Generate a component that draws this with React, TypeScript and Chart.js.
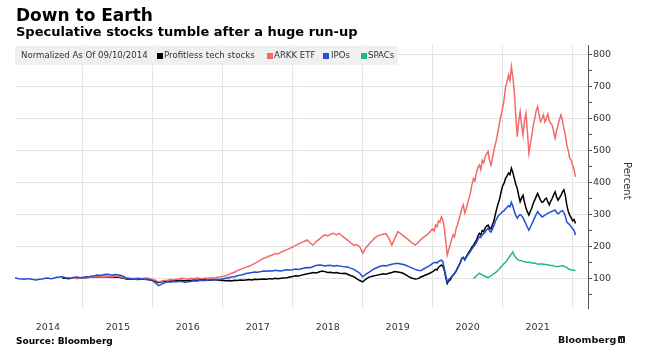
import React, { useEffect, useRef } from "react";
import { Chart, registerables } from "chart.js";

Chart.register(...registerables);

// ---------- data ----------
// early segments: semi-monthly readings (step 1/24 year) up to end of 2019
// late segments: weekly-ish readings (step 1/48 year) from 2020.0
const EARLY_STEP = 1 / 24;
const LATE_STEP = 1 / 48;
const lateStart = 2020;

const yearLabels = ["2014", "2015", "2016", "2017", "2018", "2019", "2020", "2021"];
const yTickValues = [50, 100, 150, 200, 250, 300, 350, 400, 450, 500, 550, 600, 650, 700, 750, 800];

const techStart = 2014 + 17 / 24;
const techEarly = [
  100, 101, 99, 100, 101, 100, 102,
  101, 102, 103, 104, 103, 105, 104, 106, 105, 104, 105, 103, 104, 102, 100, 98, 97, 98, 97, 96, 98, 97, 96, 95,
  93, 90, 87, 89, 91, 92, 91, 93, 92, 94, 93, 92, 94, 93, 95, 94, 95, 96, 95, 94, 95, 96, 95, 94,
  93, 92, 93, 92, 94, 93, 95, 94, 95, 96, 95, 97, 96, 97, 98, 97, 99, 98, 100, 99, 100, 101, 102, 104,
  106, 108, 107, 110, 112, 114, 116, 118, 117, 120, 123, 121, 118, 119, 117, 118, 116, 115, 116, 112, 108, 105, 98, 93,
  89, 97, 103, 106, 108, 110, 112, 114, 113, 116, 118, 121, 120, 118, 115, 110, 104, 100, 98, 99, 104, 108, 112, 116,
];
const techLate = [
  121, 124, 128, 126, 135, 138, 142, 138, 125, 102, 84, 92,
  95, 104, 110, 115, 122, 132, 140, 150, 163, 166, 158, 168,
  175, 183, 190, 198, 204, 212, 220, 232, 241, 236, 250, 246,
  258, 264, 267, 258, 255, 268, 280, 300, 319, 335, 350, 372,
  390, 398, 413, 420, 430, 425, 445, 432, 413, 395, 382, 360,
  340, 352, 360, 338, 320, 308, 298, 310, 320, 335, 345, 356,
  366, 355, 345, 338, 340, 348, 351, 340, 330, 342, 350, 362,
  371, 355, 345, 352, 360, 370, 377, 360, 330, 310, 298, 290,
  280, 284, 272,
];

const arkkStart = 2014 + 20 / 24;
const arkkEarly = [
  100, 101, 99, 102,
  101, 103, 102, 104, 105, 104, 106, 105, 107, 106, 105, 107, 106, 104, 102, 100, 101, 99, 100, 101, 99, 100, 101, 99,
  97, 93, 89, 91, 93, 94, 96, 95, 97, 98, 100, 99, 98, 100, 99, 101, 100, 99, 101, 100, 102, 101, 103, 104,
  106, 108, 111, 116, 119, 124, 128, 131, 135, 138, 142, 147, 152, 158, 163, 166, 170, 173, 178, 176, 182, 186, 190, 194,
  198, 203, 208, 212, 216, 220, 210, 204, 215, 222, 230, 236, 233, 238, 241, 236, 241, 232, 225, 218, 210, 204, 206, 198,
  178, 195, 205, 215, 225, 232, 236, 238, 240, 225, 204, 225, 246, 240, 232, 226, 218, 210, 204, 212, 222, 230, 236, 245,
];
const arkkLate = [
  255, 248, 267, 262, 280, 276, 293, 282, 257, 215, 173, 190,
  205, 222, 236, 230, 255, 268, 285, 300, 319, 330, 305, 318,
  335, 352, 370, 395, 413, 405, 430, 448, 455, 440, 470, 462,
  480, 490, 497, 470, 455, 478, 500, 520, 539, 565, 590, 612,
  633, 660, 700, 715, 737, 720, 763, 730, 685, 610, 544, 590,
  622, 580, 549, 595, 617, 560, 492, 520, 549, 578, 600, 625,
  638, 612, 591, 600, 612, 590, 600, 615, 595, 585, 580, 560,
  539, 562, 580, 598, 612, 595, 570, 548, 518, 500, 476, 470,
  455, 440, 418,
];

const iposStart = 2014;
const iposEarly = [
  100, 101, 99, 98, 97, 99, 98, 96, 95, 97, 98, 100, 101, 99, 100, 103, 104, 105, 102, 101, 100, 103, 104, 102,
  103, 105, 104, 107, 108, 110, 109, 111, 113, 112, 110, 112, 111, 109, 106, 100, 98, 99, 97, 98, 99, 97, 98, 96,
  92, 85, 77, 82, 86, 89, 88, 90, 89, 91, 90, 88, 89, 90, 92, 91, 93, 94, 93, 95, 96, 95, 97, 96,
  98, 100, 102, 104, 105, 108, 110, 112, 115, 117, 118, 120, 119, 121, 123, 122, 124, 123, 125, 124, 123, 125, 127, 126,
  127, 129, 128, 130, 132, 134, 133, 137, 140, 142, 141, 139, 140, 141, 138, 140, 139, 137, 136, 135, 131, 128, 122, 116,
  105, 112, 118, 124, 130, 134, 138, 140, 139, 142, 144, 146, 147, 145, 143, 140, 136, 132, 128, 125, 124, 130, 135, 140,
];
const iposLate = [
  147, 149, 150, 148, 153, 155, 157, 152, 130, 108, 89, 96,
  100, 106, 110, 116, 122, 130, 140, 150, 163, 165, 158, 165,
  172, 178, 185, 192, 199, 205, 212, 222, 230, 228, 236, 240,
  245, 252, 257, 250, 245, 255, 265, 278, 288, 295, 300, 304,
  309, 312, 318, 322, 328, 324, 338, 326, 310, 298, 288, 295,
  300, 296, 290, 280, 270, 260, 251, 260, 270, 280, 290, 300,
  309, 302, 298, 292, 295, 298, 300, 304, 306, 308, 310, 312,
  314, 306, 302, 306, 310, 312, 306, 295, 277, 272, 268, 262,
  255, 250, 236,
];

const spacsStart = 2020 + 28 / 48;
const spacsLate = [
  100, 103, 108, 112, 116, 113, 111, 108, 106, 104,
  102, 105, 108, 112, 115, 118, 121, 126, 130, 136,
  142, 146, 150, 156, 163, 170, 176, 183, 172, 165,
  160, 157, 156, 155, 153, 152, 151, 150, 150, 149,
  149, 147, 148, 146, 145, 144, 145, 145, 144, 143,
  143, 142, 141, 140, 140, 139, 138, 136, 137, 138,
  139, 140, 138, 136, 134, 130, 128, 126, 126, 125,
  124,
];

// ---------- styles ----------
const FONT = '"DejaVu Sans", Verdana, sans-serif';
const BLACK = "#000000";
const RED = "#f36a6a";
const BLUE = "#1f4fd3";
const GREEN = "#26b58a";
const GRID = "#e4e4e4";

function toPoints(start: number, early: number[], late: number[], late0: number) {
  const a = early.map((v, i) => ({ x: start + i * EARLY_STEP, y: v }));
  const b = late.map((v, i) => ({ x: late0 + i * LATE_STEP, y: v }));
  return a.concat(b);
}

export default function App() {
  const ref = useRef<HTMLCanvasElement>(null);

  useEffect(() => {
    const canvas = ref.current;
    if (!canvas) return;
    const xTicks: number[] = [];
    yearLabels.forEach((y) => {
      const n = Number(y);
      xTicks.push(n + 0.5, n + 1);
    });

    const chart = new Chart(canvas, {
      type: "line",
      data: {
        datasets: [
          { label: "Profitless tech stocks", data: toPoints(techStart, techEarly, techLate, lateStart), borderColor: BLACK, order: 4 },
          { label: "ARKK ETF", data: toPoints(arkkStart, arkkEarly, arkkLate, lateStart), borderColor: RED, order: 3 },
          { label: "IPOs", data: toPoints(iposStart, iposEarly, iposLate, lateStart), borderColor: BLUE, order: 2 },
          { label: "SPACs", data: toPoints(spacsStart, [], spacsLate, spacsStart), borderColor: GREEN, order: 1 },
        ],
      },
      options: {
        responsive: false,
        animation: false,
        devicePixelRatio: 1,
        layout: { padding: { left: 15, right: 0, top: 45, bottom: 24 } },
        elements: {
          point: { radius: 0 },
          line: { borderWidth: 1.5, tension: 0, fill: false },
        },
        plugins: { legend: { display: false }, tooltip: { enabled: false }, title: { display: false } },
        scales: {
          x: {
            type: "linear",
            min: 2014.03,
            max: 2022.22,
            afterBuildTicks: (s: any) => {
              s.ticks = xTicks.map((v) => ({ value: v }));
            },
            afterFit: (s: any) => {
              s.height = 30;
            },
            grid: {
              color: (c: any) => (c.tick && Number.isInteger(c.tick.value) ? GRID : "rgba(0,0,0,0)"),
              drawTicks: false,
              lineWidth: 1,
            },
            border: { display: false },
            ticks: {
              autoSkip: false,
              maxRotation: 0,
              padding: 14,
              color: "#333",
              font: { family: FONT, size: 9.5 },
              callback: (v: any) => (Number.isInteger(v) ? "" : String(Math.floor(v))),
            },
          },
          y: {
            type: "linear",
            position: "right",
            min: 7,
            max: 831,
            afterBuildTicks: (s: any) => {
              s.ticks = yTickValues.map((v) => ({ value: v }));
            },
            afterFit: (s: any) => {
              s.width = 61;
            },
            grid: {
              color: (c: any) => (c.tick && c.tick.value % 100 === 0 ? GRID : "rgba(0,0,0,0)"),
              drawTicks: true,
              tickLength: 4,
              tickColor: "#555",
            },
            border: { display: true, color: "#555", width: 1 },
            ticks: {
              autoSkip: false,
              padding: 1,
              color: "#333",
              font: { family: FONT, size: 9.5 },
              callback: (v: any) => (v % 100 === 0 ? String(v) : ""),
            },
          },
        },
      },
    } as any);
    return () => chart.destroy();
  }, []);

  const sq = (left: number, color: string) => (
    <span style={{ position: "absolute", left, top: 7, width: 6, height: 6, background: color }} />
  );
  const txt = (left: number, s: string) => (
    <span style={{ position: "absolute", left, top: 0, lineHeight: "19px", whiteSpace: "nowrap" }}>{s}</span>
  );

  return (
    <div style={{ position: "fixed", left: 0, top: 0, width: 649, height: 362, background: "#fff", overflow: "hidden" }}>
      <canvas ref={ref} width={649} height={362} style={{ position: "absolute", left: 0, top: 0, width: 649, height: 362 }} />
      <div style={{ position: "absolute", left: 16, top: 5, font: `bold 17px ${FONT}`, lineHeight: "20px", color: "#000", whiteSpace: "nowrap" }}>
        Down to Earth
      </div>
      <div style={{ position: "absolute", left: 16, top: 24, font: `bold 13px ${FONT}`, lineHeight: "16px", color: "#000", whiteSpace: "nowrap" }}>
        Speculative stocks tumble after a huge run-up
      </div>
      <div style={{ position: "absolute", left: 15, top: 46, width: 383, height: 19, background: "#f0f0f0", font: `8.6px ${FONT}`, color: "#333" }}>
        {txt(6, "Normalized As Of 09/10/2014")}
        {sq(142, BLACK)}
        {txt(149, "Profitless tech stocks")}
        {sq(252, RED)}
        {txt(259, "ARKK ETF")}
        {sq(308, BLUE)}
        {txt(316, "IPOs")}
        {sq(346, GREEN)}
        {txt(353, "SPACs")}
      </div>
      <div style={{ position: "absolute", left: 621, top: 162, writingMode: "vertical-rl", font: `10px ${FONT}`, lineHeight: "12px", color: "#333", whiteSpace: "nowrap" }}>
        Percent
      </div>
      <div style={{ position: "absolute", left: 16, top: 336, font: `bold 9px ${FONT}`, lineHeight: "11px", color: "#000", whiteSpace: "nowrap" }}>
        Source: Bloomberg
      </div>
      <div style={{ position: "absolute", left: 558, top: 334, font: `bold 9.5px ${FONT}`, lineHeight: "11px", color: "#111", whiteSpace: "nowrap" }}>
        Bloomberg
      </div>
      <div style={{ position: "absolute", left: 618, top: 336, width: 7, height: 7, background: "#222", borderRadius: 1 }}>
        <span style={{ position: "absolute", left: 2, top: 3, width: 1, height: 3, background: "#fff" }} />
        <span style={{ position: "absolute", left: 4, top: 2, width: 1, height: 4, background: "#fff" }} />
      </div>
    </div>
  );
}
